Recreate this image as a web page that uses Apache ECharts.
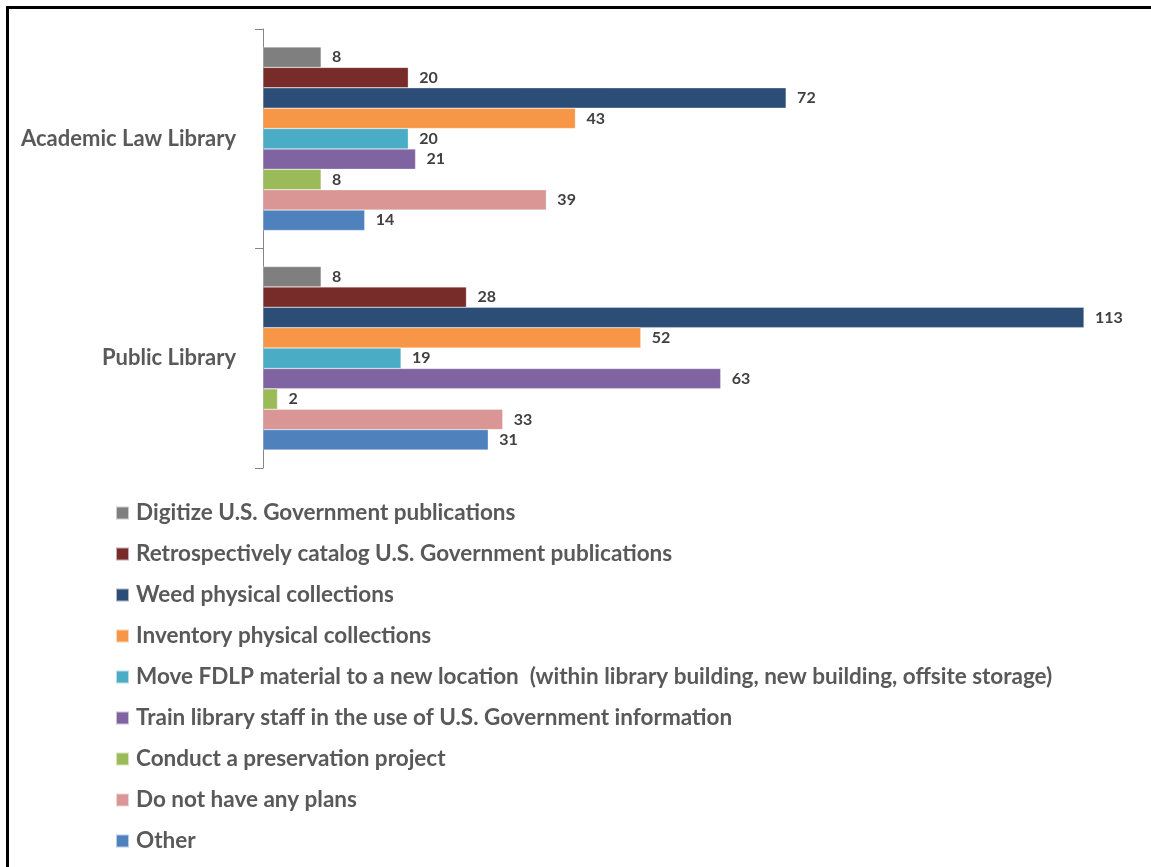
<!DOCTYPE html>
<html><head><meta charset="utf-8">
<script src="https://cdn.jsdelivr.net/npm/echarts@6/dist/echarts.min.js"></script>
<style>
html,body{margin:0;padding:0;background:#fff;overflow:hidden;}
#chart{width:1151px;height:867px;position:absolute;left:0;top:0;}
#frame{position:absolute;left:6px;top:6px;width:1200px;height:900px;border:3px solid #000;box-sizing:border-box;pointer-events:none;}
</style></head>
<body>
<div id="chart"></div>
<div id="frame"></div>
<script>
const categories = ['Academic Law Library', 'Public Library'];
const seriesNames = [
  'Digitize U.S. Government publications',
  'Retrospectively catalog U.S. Government publications',
  'Weed physical collections',
  'Inventory physical collections',
  'Move FDLP material to a new location  (within library building, new building, offsite storage)',
  'Train library staff in the use of U.S. Government information',
  'Conduct a preservation project',
  'Do not have any plans',
  'Other'
];
const digitize = [8, 8];
const retroCatalog = [20, 28];
const weed = [72, 113];
const inventory = [43, 52];
const moveFdlp = [20, 19];
const trainStaff = [21, 63];
const preservation = [8, 2];
const noPlans = [39, 33];
const other = [14, 31];
const seriesValues = [digitize, retroCatalog, weed, inventory, moveFdlp, trainStaff, preservation, noPlans, other];
const colors = ['#7f7f7f', '#772c2a', '#2c4d75', '#f79646', '#4bacc6', '#8064a2', '#9bbb59', '#d99694', '#4f81bd'];

const FONT = 'Lato';
const chart = echarts.init(document.getElementById('chart'), null, {renderer: 'canvas'});
chart.setOption({
  animation: false,
  color: colors,
  grid: {left: 263, right: 67, top: 29, bottom: 399, containLabel: false},
  xAxis: {type: 'value', min: 0, max: 113, show: false},
  yAxis: {
    type: 'category', data: categories, inverse: true,
    axisLine: {show: true, lineStyle: {color: '#868686', width: 1}},
    axisTick: {show: true, length: 8, alignWithLabel: false, lineStyle: {color: '#868686'}},
    axisLabel: {color: '#595959', fontFamily: FONT, fontWeight: 'bold', fontSize: 22, margin: 27}
  },
  legend: {
    orient: 'vertical', left: 110, top: 496.5, height: 380,
    itemWidth: 13, itemHeight: 13, itemGap: 18, icon: 'rect',
    textStyle: {color: '#595959', fontFamily: FONT, fontWeight: 'bold', fontSize: 22.5, lineHeight: 22, padding: [0,0,0,2]},
    data: seriesNames
  },
  series: seriesNames.map((name, i) => ({
    name: name, type: 'bar', data: seriesValues[i],
    barGap: '0%', barCategoryGap: '16.4%',
    itemStyle: {color: colors[i], borderColor: 'rgba(255,255,255,0.6)', borderWidth: 0.5},
    label: {show: true, position: 'right', distance: 11, color: '#404040', fontFamily: FONT, fontWeight: 'bold', fontSize: 16}
  }))
});
</script>
</body></html>
